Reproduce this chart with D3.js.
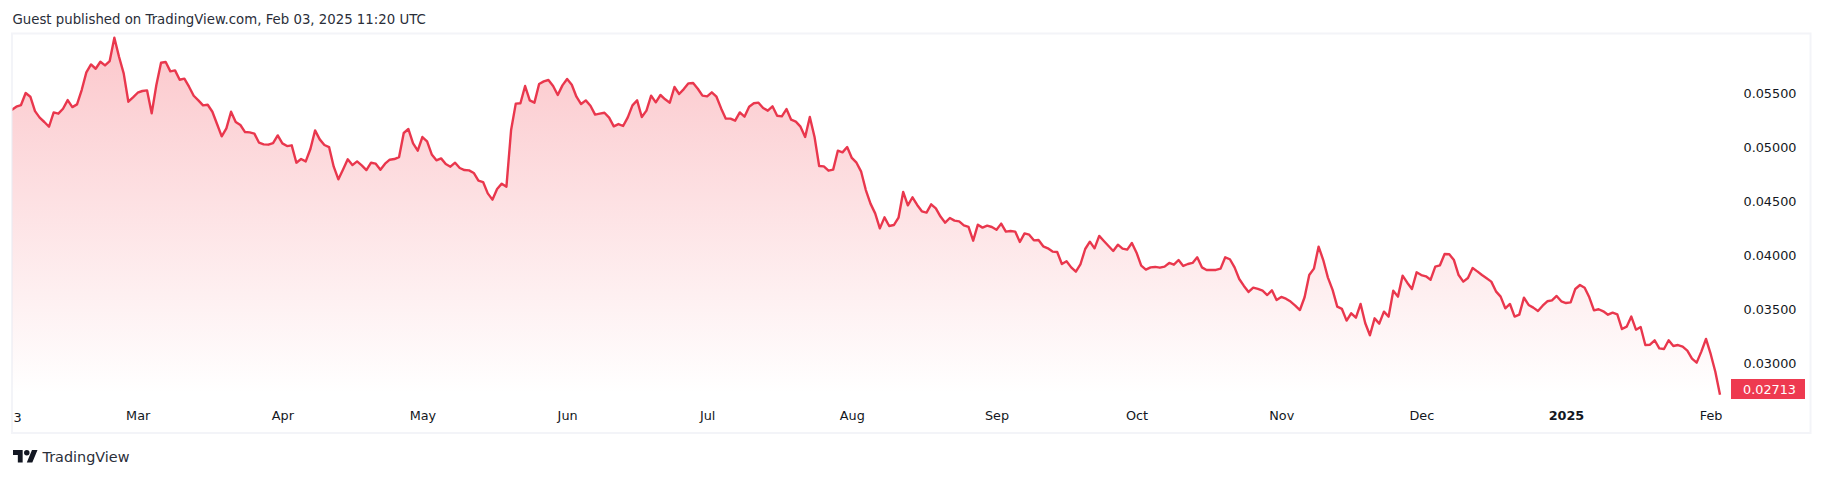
<!DOCTYPE html>
<html><head><meta charset="utf-8">
<script src="https://cdn.jsdelivr.net/npm/d3@7/dist/d3.min.js"></script>
<style>html,body{margin:0;padding:0;background:#fff;overflow:hidden}svg{display:block}text{font-family:"DejaVu Sans",sans-serif}</style>
</head><body><svg id="c" width="1824" height="478"></svg>
<script>
const startDate = "2024-02-03";
const pricesA = [0.05349,0.05380,0.05395,0.05506,0.05472,0.05339,0.05278,0.05238,0.05194,0.05327,0.05315,0.05361,0.05441,0.05376,0.05401,0.05534,0.05697,0.05771,0.05731,0.05796,0.05762,0.05802,0.06018,0.05842,0.05688,0.05426,0.05466,0.05509,0.05525,0.05531,0.05318,0.05580,0.05787,0.05793,0.05707,0.05716,0.05629,0.05639,0.05565,0.05481,0.05438,0.05392,0.05398,0.05333,0.05219,0.05105,0.05179,0.05333,0.05238,0.05210,0.05145,0.05142,0.05130,0.05046,0.05031,0.05028,0.05043,0.05114,0.05040,0.05015,0.05022,0.04861,0.04895,0.04873,0.04988,0.05160,0.05077,0.05025,0.05006,0.04824,0.04707,0.04799,0.04892,0.04839,0.04873,0.04836,0.04793,0.04861,0.04852,0.04796,0.04852,0.04889,0.04895,0.04913,0.05136,0.05173,0.05040,0.04972,0.05099,0.05059,0.04938,0.04883,0.04901,0.04849,0.04824,0.04861,0.04812];
const pricesB = [0.04793,0.04790,0.04766,0.04695,0.04682,0.04577,0.04519,0.04618,0.04667,0.04639,0.05164,0.05408,0.05411,0.05571,0.05438,0.05417,0.05590,0.05614,0.05627,0.05571,0.05488,0.05577,0.05636,0.05583,0.05472,0.05404,0.05438,0.05389,0.05306,0.05315,0.05324,0.05278,0.05198,0.05219,0.05201,0.05281,0.05392,0.05438,0.05284,0.05343,0.05482,0.05420,0.05488,0.05448,0.05417,0.05562,0.05497,0.05543,0.05596,0.05599,0.05546,0.05482,0.05475,0.05513,0.05472,0.05364,0.05269,0.05269,0.05250,0.05327,0.05287,0.05380,0.05411,0.05417,0.05367,0.05343,0.05383,0.05296,0.05290,0.05358,0.05259,0.05241,0.05195,0.05099,0.05284,0.05102,0.04830,0.04827,0.04787,0.04797,0.04972,0.04957,0.05006,0.04905,0.04861,0.04778,0.04608,0.04482,0.04392,0.04253,0.04355,0.04275,0.04284,0.04352,0.04590];
const pricesC = [0.04466,0.04541,0.04470,0.04411,0.04399,0.04476,0.04439,0.04362,0.04306,0.04349,0.04325,0.04318,0.04281,0.04266,0.04139,0.04287,0.04260,0.04278,0.04266,0.04241,0.04297,0.04223,0.04229,0.04223,0.04127,0.04207,0.04195,0.04142,0.04146,0.04087,0.04068,0.04038,0.04034,0.03923,0.03948,0.03892,0.03852,0.03923,0.04062,0.04130,0.04068,0.04183,0.04136,0.04090,0.04044,0.04102,0.04065,0.04056,0.04118,0.04028,0.03908,0.03871,0.03892,0.03896,0.03889,0.03899,0.03933,0.03917,0.03960,0.03905,0.03923,0.03933,0.03985,0.03892,0.03868,0.03868,0.03868,0.03880,0.03985,0.03967,0.03892,0.03784,0.03720,0.03664,0.03704,0.03692,0.03676,0.03636,0.03680,0.03590,0.03618,0.03602,0.03575,0.03538,0.03497,0.03615,0.03821,0.03880,0.04084,0.03960,0.03797,0.03683,0.03528,0.03507,0.03399,0.03467,0.03426,0.03553];
const pricesD = [0.03374,0.03263,0.03420,0.03371,0.03482,0.03436,0.03676,0.03621,0.03815,0.03750,0.03692,0.03846,0.03821,0.03809,0.03778,0.03899,0.03911,0.04016,0.04013,0.03960,0.03821,0.03760,0.03794,0.03886,0.03855,0.03821,0.03791,0.03760,0.03670,0.03621,0.03513,0.03553,0.03436,0.03454,0.03612,0.03544,0.03519,0.03488,0.03537,0.03578,0.03587,0.03627,0.03578,0.03562,0.03568,0.03692,0.03729,0.03704,0.03615,0.03494,0.03504,0.03485,0.03454,0.03473,0.03457,0.03321,0.03343,0.03436,0.03315,0.03340,0.03173,0.03176,0.03217,0.03142,0.03136,0.03217,0.03164,0.03173,0.03158,0.03121,0.03047,0.03010,0.03112,0.03229,0.03090,0.02926,0.02713];
const priceTicks = [0.03,0.035,0.04,0.045,0.05,0.055];
const monthTicks = ["2024-03-01","2024-04-01","2024-05-01","2024-06-01","2024-07-01","2024-08-01","2024-09-01","2024-10-01","2024-11-01","2024-12-01","2025-01-01","2025-02-01"];
const monthLabels = ["Mar","Apr","May","Jun","Jul","Aug","Sep","Oct","Nov","Dec","2025","Feb"];
const firstLabel = "3";
const lastLabel = "0.02713";
const titleText = "Guest published on TradingView.com, Feb 03, 2025 11:20 UTC";

const prices = [...pricesA, ...pricesB, ...pricesC, ...pricesD];
const start = d3.utcParse("%Y-%m-%d")(startDate);
const data = prices.map((v, i) => ({date: d3.utcDay.offset(start, i), v}));
const parse = d3.utcParse("%Y-%m-%d");

const RED = "#e9374d";
const FILL = "#f23645";
const svg = d3.select("#c");
const defs = svg.append("defs");
const paneBottom = 393;
const x = d3.scaleUtc().domain([start, data[data.length - 1].date]).range([11.67, 1720]);
const y = d3.scaleLinear().domain([0.03, 0.055]).range([363.7, 93.7]);

const grad = defs.append("linearGradient").attr("id", "g")
  .attr("gradientUnits", "userSpaceOnUse").attr("x1", 0).attr("x2", 0).attr("y1", 36).attr("y2", paneBottom);
grad.append("stop").attr("offset", 0).attr("stop-color", FILL).attr("stop-opacity", 0.28);
grad.append("stop").attr("offset", 1).attr("stop-color", FILL).attr("stop-opacity", 0);
defs.append("clipPath").attr("id", "clip").append("rect").attr("x", 12.5).attr("y", 34).attr("width", 1720).attr("height", 370);

svg.append("text").attr("x", 12.5).attr("y", 24).attr("font-size", 13.3).attr("fill", "#2a2e39").attr("id", "title").text(titleText);

svg.append("rect").attr("x", 12).attr("y", 33.5).attr("width", 1798.5).attr("height", 399.5)
  .attr("fill", "#fff").attr("stroke", "#f3f4f8").attr("stroke-width", 2);

const plot = svg.append("g").attr("clip-path", "url(#clip)");
plot.append("path").attr("fill", "url(#g)")
  .attr("d", d3.area().x(d => x(d.date)).y0(paneBottom).y1(d => Math.min(y(d.v), paneBottom))(data));
plot.append("path").attr("fill", "none").attr("stroke", RED).attr("stroke-width", 2.4).attr("stroke-linejoin", "round")
  .attr("d", d3.line().x(d => x(d.date)).y(d => y(d.v))(data));

const yAxis = d3.axisRight(y).tickValues(priceTicks).tickSize(0).tickPadding(0).tickFormat(d3.format(".5f"));
const yG = svg.append("g").attr("transform", "translate(1743.5,0)").call(yAxis);
yG.select(".domain").remove();
yG.selectAll("text").attr("font-size", 12.8).attr("fill", "#131722").attr("font-family", '"DejaVu Sans",sans-serif');

const xDates = monthTicks.map(parse);
const xAxis = d3.axisBottom(x).tickValues(xDates).tickSize(0).tickPadding(0).tickFormat((d, i) => monthLabels[i]);
const xG = svg.append("g").attr("transform", "translate(0,411)").call(xAxis);
xG.select(".domain").remove();
xG.selectAll("text").attr("font-size", 12.8).attr("fill", "#131722").attr("font-family", '"DejaVu Sans",sans-serif')
  .attr("font-weight", (d, i) => monthLabels[i] === "2025" ? "bold" : "normal");
svg.append("text").attr("x", 13.5).attr("y", 421.5).attr("font-size", 12.8).attr("fill", "#131722").text(firstLabel);

svg.append("rect").attr("x", 1731).attr("y", 379).attr("width", 74).attr("height", 20).attr("fill", "#ee3a50");
svg.append("text").attr("x", 1769.5).attr("y", 389.3).attr("dy", "0.36em").attr("text-anchor", "middle")
  .attr("font-size", 12.8).attr("fill", "#fff").text(lastLabel);

const logo = svg.append("g").attr("transform", "translate(13,447.3) scale(0.69)").attr("fill", "#131722");
logo.append("path").attr("d", "M14 22H7V11H0V4h14v18zM28 22h-8l7.5-18h8L28 22z");
logo.append("circle").attr("cx", 20).attr("cy", 8).attr("r", 4);
svg.append("text").attr("x", 42.5).attr("y", 462).attr("font-size", 14.4).attr("fill", "#2a2e39").text("TradingView");
</script></body></html>
